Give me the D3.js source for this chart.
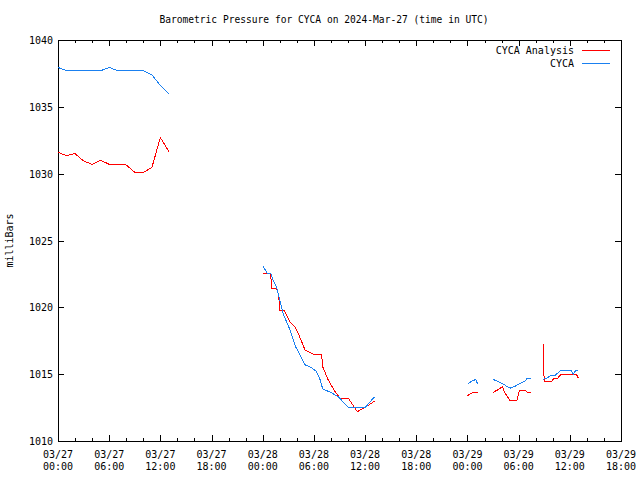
<!DOCTYPE html>
<html>
<head>
<meta charset="utf-8">
<script src="https://cdn.jsdelivr.net/npm/d3@7"></script>
<style>
  html, body { margin: 0; padding: 0; background: #fff; }
  svg { display: block; }
  text { font-family: "DejaVu Sans Mono", "Liberation Mono", monospace; fill: #000; }
</style>
</head>
<body>
<svg id="chart" width="640" height="480"></svg>
<script>
// ---- Data (hours since 2024-03-27 00:00 UTC; null = gap) ----
const titleText = "Barometric Pressure for CYCA on 2024-Mar-27 (time in UTC)";
const yLabelText = "milliBars";
const seriesNames = ["CYCA Analysis", "CYCA"];
const seriesColors = ["#ff0000", "#1a80f0"];
const yTicks = [1010, 1015, 1020, 1025, 1030, 1035, 1040];

const analysisHours = [0,1,2,3,4,5,6,7,8,9,10,11,12,13, null,
  24.0,24.94,25.03,25.62,25.79,25.91,25.97,26.49,27.2,27.78,28.17,28.96,29.34,30.01,30.91,31.03,31.69,32.47,33.06,34.03,35.09,35.99,37.16, null,
  48.0,48.42,48.81,49.2, null,
  51.03,51.62,52.09,52.4,52.72,52.99,53.77,54.08,54.75,55.02,55.45, null,
  56.89,56.92,57.01,57.88,58.07,58.58,58.97,60.02,60.81,61.0];
const analysisValues = [1031.6,1031.35,1031.5,1030.95,1030.7,1031.0,1030.7,1030.65,1030.65,1030.1,1030.1,1030.45,1032.7,1031.65, null,
  1022.55,1022.55,1021.4,1021.4,1021.1,1020.55,1019.8,1019.8,1018.9,1018.55,1018.05,1016.8,1016.7,1016.45,1016.45,1015.55,1014.55,1013.7,1013.2,1013.2,1012.2,1012.5,1013.0, null,
  1013.4,1013.55,1013.65,1013.65, null,
  1013.65,1013.85,1014.05,1013.6,1013.3,1013.0,1013.0,1013.75,1013.8,1013.65,1013.65, null,
  1017.25,1015.5,1014.45,1014.45,1014.65,1014.7,1015.0,1015.0,1014.95,1014.7];

const obsHours = [0,1,2,3,4,5,6,7,8,9,10,11,12,13, null,
  24.0,24.38,24.56,24.97,25.24,25.64,25.85,26.41,27.08,27.9,28.96,29.66,30.3,30.72,31.03,32.09,32.88,34.03,35.99,37.1, null,
  48.0,48.42,48.97,49.2, null,
  51.03,51.62,52.2,52.99,53.58,54.16,54.75,54.95,55.45, null,
  56.89,57.41,57.76,58.26,58.97,60.14,60.43,60.69,61.0];
const obsValues = [1037.95,1037.7,1037.7,1037.7,1037.7,1037.7,1037.95,1037.7,1037.7,1037.7,1037.7,1037.4,1036.6,1035.95, null,
  1023.1,1022.72,1022.5,1022.5,1022.0,1021.5,1020.9,1019.5,1018.5,1017.0,1015.7,1015.5,1015.2,1014.6,1013.9,1013.6,1013.3,1012.5,1012.5,1013.3, null,
  1014.25,1014.45,1014.6,1014.25, null,
  1014.6,1014.45,1014.25,1013.95,1014.1,1014.3,1014.5,1014.65,1014.65, null,
  1014.6,1014.75,1014.9,1014.9,1015.3,1015.3,1015.0,1015.3,1015.3];

// ---- Layout ----
const margin = { left: 58, right: 19, top: 40, bottom: 39 };
const W = 640, H = 480;
const t0 = Date.UTC(2024, 2, 27, 0, 0);
const t1 = Date.UTC(2024, 2, 29, 18, 0);
const toDate = h => new Date(t0 + h * 3600000);

const svg = d3.select("#chart");
const x = d3.scaleUtc().domain([new Date(t0), new Date(t1)]).range([margin.left, W - margin.right]);
const y = d3.scaleLinear().domain([1010, 1040]).range([H - margin.bottom, margin.top]);

const x0 = margin.left, x1 = W - margin.right, y0 = margin.top, y1 = H - margin.bottom;

// Title
svg.append("text").attr("x", 324).attr("y", 23).attr("text-anchor", "middle")
  .style("font-size", "9.6px").text(titleText);

// Y label
svg.append("text").attr("transform", `translate(13,${(y0 + y1) / 2}) rotate(-90)`)
  .attr("text-anchor", "middle").style("font-size", "10px").text(yLabelText);

// Axes (inward ticks, mirrored)
const majorX = d3.utcHour.every(6).range(new Date(t0), new Date(t1 + 1));
const minorX = d3.utcHour.every(2).range(new Date(t0), new Date(t1 + 1)).filter(d => d.getUTCHours() % 6 !== 0);

function styleAxis(g) {
  g.select(".domain").remove();
  g.selectAll("line").attr("stroke", "#000").attr("shape-rendering", "crispEdges");
  g.selectAll("text").remove();
}
svg.append("g").attr("transform", `translate(0,${y1})`)
  .call(d3.axisBottom(x).tickValues(majorX).tickSize(-6).tickFormat("")).call(styleAxis);
svg.append("g").attr("transform", `translate(0,${y1})`)
  .call(d3.axisBottom(x).tickValues(minorX).tickSize(-3).tickFormat("")).call(styleAxis);
svg.append("g").attr("transform", `translate(0,${y0})`)
  .call(d3.axisTop(x).tickValues(majorX).tickSize(-6).tickFormat("")).call(styleAxis);
svg.append("g").attr("transform", `translate(0,${y0})`)
  .call(d3.axisTop(x).tickValues(minorX).tickSize(-3).tickFormat("")).call(styleAxis);
svg.append("g").attr("transform", `translate(${x0},0)`)
  .call(d3.axisLeft(y).tickValues(yTicks).tickSize(-6).tickFormat("")).call(styleAxis);
svg.append("g").attr("transform", `translate(${x1},0)`)
  .call(d3.axisRight(y).tickValues(yTicks).tickSize(-6).tickFormat("")).call(styleAxis);

// Y tick labels
svg.append("g").selectAll("text").data(yTicks).join("text")
  .attr("x", x0 - 5).attr("y", d => y(d) + 4).attr("text-anchor", "end")
  .style("font-size", "10px").text(d => d);

// X tick labels (two lines)
const fmtDay = d3.utcFormat("%m/%d"), fmtTime = d3.utcFormat("%H:%M");
const xl = svg.append("g").selectAll("g").data(majorX).join("g");
xl.append("text").attr("x", d => x(d)).attr("y", y1 + 17).attr("text-anchor", "middle")
  .style("font-size", "10px").text(d => fmtDay(d));
xl.append("text").attr("x", d => x(d)).attr("y", y1 + 29).attr("text-anchor", "middle")
  .style("font-size", "10px").text(d => fmtTime(d));

// Frame
svg.append("rect").attr("x", x0 + 0.5).attr("y", y0 + 0.5)
  .attr("width", x1 - x0).attr("height", y1 - y0)
  .attr("fill", "none").attr("stroke", "#000").attr("shape-rendering", "crispEdges");

// Series lines
function pts(hours, vals) { return hours.map((h, i) => [h, vals[i]]); }
const line = d3.line()
  .defined(d => d[0] !== null && d[1] !== null)
  .x(d => x(toDate(d[0])))
  .y(d => y(d[1]));

const series = [pts(analysisHours, analysisValues), pts(obsHours, obsValues)];
series.forEach((s, i) => {
  svg.append("path").datum(s).attr("d", line)
    .attr("fill", "none").attr("stroke", seriesColors[i]).attr("stroke-width", 1)
    .attr("shape-rendering", "crispEdges");
});

// Legend
seriesNames.forEach((name, i) => {
  const ly = 50 + i * 13;
  svg.append("text").attr("x", 574).attr("y", ly + 4).attr("text-anchor", "end")
    .style("font-size", "10px").text(name);
  svg.append("line").attr("x1", 582).attr("x2", 610).attr("y1", ly + 0.5).attr("y2", ly + 0.5)
    .attr("stroke", seriesColors[i]).attr("shape-rendering", "crispEdges");
});
</script>
</body>
</html>
